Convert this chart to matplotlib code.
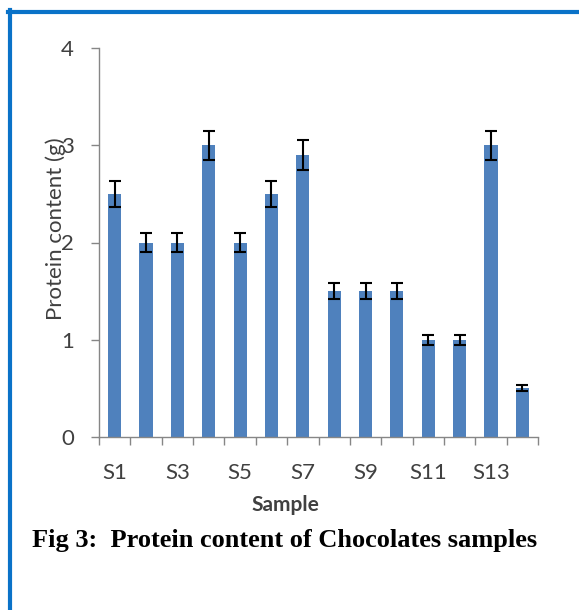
import numpy as np
import matplotlib
matplotlib.use("Agg")
import matplotlib.pyplot as plt
from matplotlib.lines import Line2D

# data
samples = ["S1", "S2", "S3", "S4", "S5", "S6", "S7", "S8", "S9", "S10", "S11", "S12", "S13", "S14"]
protein = [2.5, 2.0, 2.0, 3.0, 2.0, 2.5, 2.9, 1.5, 1.5, 1.5, 1.0, 1.0, 3.0, 0.5]
errors = [0.13, 0.10, 0.10, 0.15, 0.10, 0.13, 0.15, 0.08, 0.08, 0.08, 0.05, 0.05, 0.15, 0.03]
yticks = [0, 1, 2, 3, 4]

plt.rcParams['font.family'] = ['Lato', 'DejaVu Sans']

fig = plt.figure(figsize=(5.79, 6.10), dpi=100)
ax = fig.add_axes([99/579, 1-437/610, 439/579, 389/610])

x = np.arange(len(samples))
ax.bar(x, protein, width=0.42, color='#4F81BD', zorder=2)
ax.errorbar(x, protein, yerr=errors, fmt='none', ecolor='black', elinewidth=1.5,
            capsize=4.5, capthick=1.5, zorder=3)

ax.set_xlim(-0.5, len(samples)-0.5)
ax.set_ylim(0, 4)
ax.set_yticks(yticks)
ax.set_yticklabels([str(v) for v in yticks])

# category labels every other sample, tick marks at the category borders
ax.set_xticks(x[::2])
ax.set_xticklabels(samples[::2])
ax.set_xticks(np.arange(len(samples)+1)-0.5, minor=True)
ax.tick_params(axis='x', which='major', length=0, pad=19, labelsize=16,
               labelcolor='#404040')
ax.tick_params(axis='x', which='minor', length=6, width=1, color='#868686', direction='out')
ax.tick_params(axis='y', length=6, width=1, color='#868686', pad=12, labelsize=16,
               labelcolor='#404040')

for s in ['top', 'right']:
    ax.spines[s].set_visible(False)
for s in ['left', 'bottom']:
    ax.spines[s].set_color('#868686')
    ax.spines[s].set_linewidth(1)

ax.set_ylabel('Protein content (g)', fontsize=16, color='#404040', va='center')
ax.yaxis.set_label_coords((56-99)/439, (437-229)/389)

fig.text(285/579, 1-505/610, 'Sample', ha='center', va='center', fontsize=15,
         fontweight='bold', color='#404040')
fig.text(32/579, 1-541/610, 'Fig 3:  Protein content of Chocolates samples', ha='left',
         va='center', fontsize=19, fontweight='bold', family='Liberation Serif', color='black')

# blue frame (top and left only)
fig.add_artist(Line2D([8/579, 1], [1-11.5/610, 1-11.5/610], color='#0A72C8', lw=3,
                      transform=fig.transFigure))
fig.add_artist(Line2D([10/579, 10/579], [0, 1-10/610], color='#0A72C8', lw=3,
                      transform=fig.transFigure))

fig.savefig('out.png', dpi=100)
